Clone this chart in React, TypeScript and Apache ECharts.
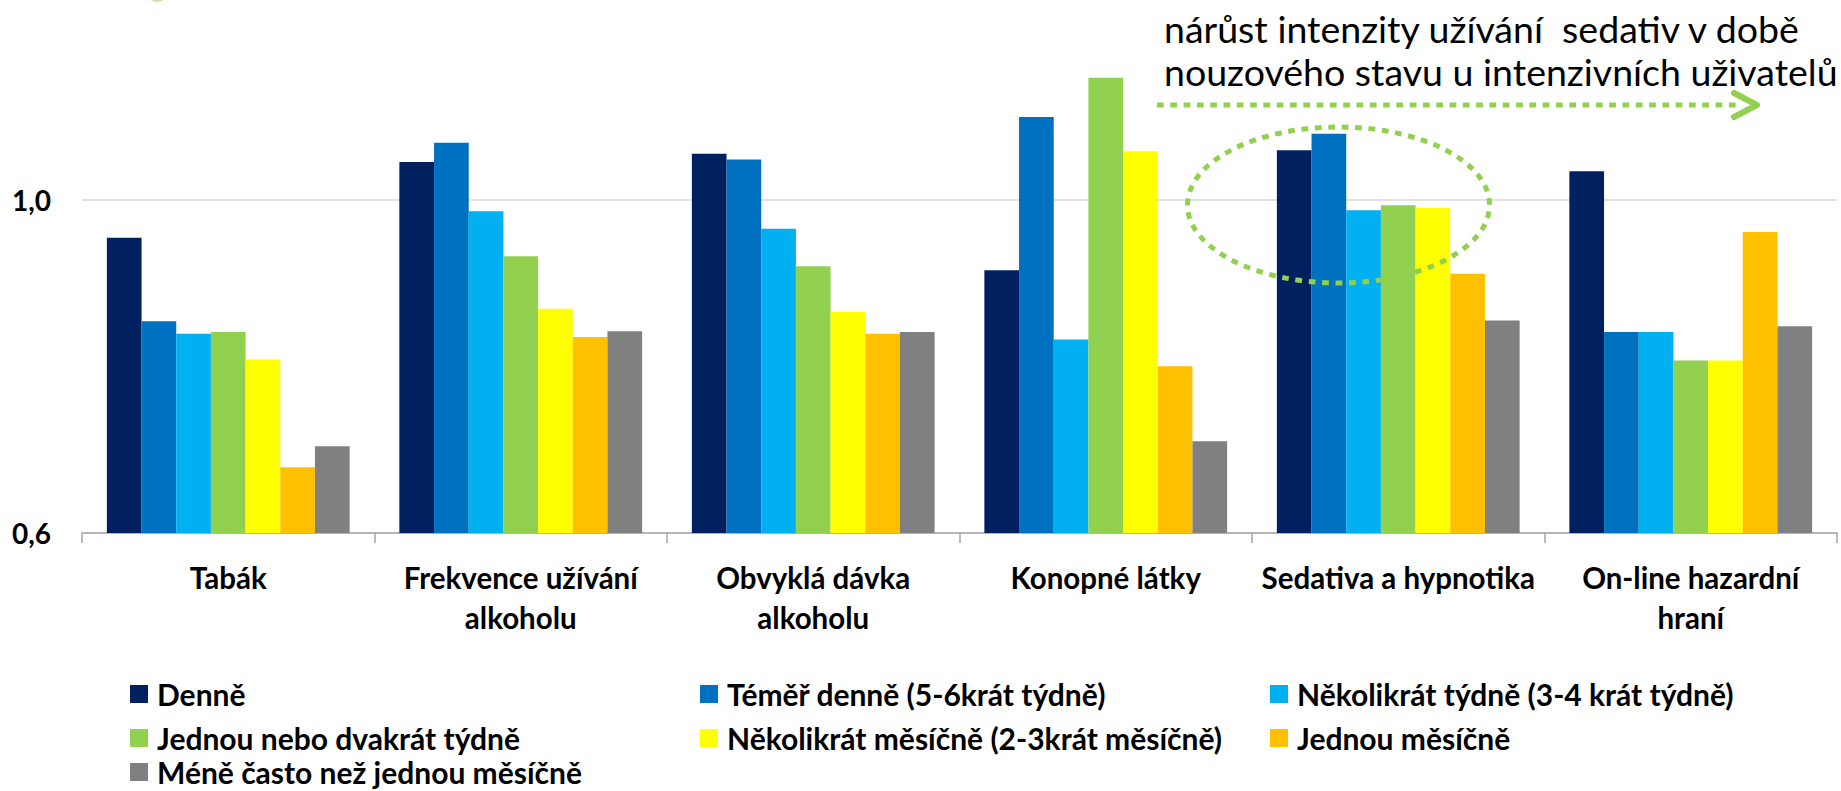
import React, { useEffect, useRef } from "react";
import * as echarts from "echarts";

const categories = [
  "Tabák",
  "Frekvence užívání\nalkoholu",
  "Obvyklá dávka\nalkoholu",
  "Konopné látky",
  "Sedativa a hypnotika",
  "On-line hazardní\nhraní",
];

const seriesNames = [
  "Denně",
  "Téměř denně (5-6krát týdně)",
  "Několikrát týdně (3-4 krát týdně)",
  "Jednou nebo dvakrát týdně",
  "Několikrát měsíčně (2-3krát měsíčně)",
  "Jednou měsíčně",
  "Méně často než jednou měsíčně",
];

const seriesColors = ["#002060", "#0070C0", "#00B0F0", "#92D050", "#FFFF00", "#FFC000", "#808080"];

const daily = [0.954, 1.045, 1.055, 0.915, 1.059, 1.034];
const almostDaily = [0.854, 1.068, 1.048, 1.099, 1.079, 0.841];
const severalWeekly = [0.839, 0.986, 0.965, 0.832, 0.987, 0.841];
const onceTwiceWeekly = [0.841, 0.932, 0.92, 1.146, 0.993, 0.807];
const severalMonthly = [0.808, 0.869, 0.865, 1.058, 0.99, 0.807];
const onceMonthly = [0.679, 0.835, 0.839, 0.8, 0.911, 0.961];
const lessOften = [0.704, 0.842, 0.841, 0.71, 0.855, 0.848];

const seriesValues = [daily, almostDaily, severalWeekly, onceTwiceWeekly, severalMonthly, onceMonthly, lessOften];

const annotationLines = [
  "nárůst intenzity užívání  sedativ v době",
  "nouzového stavu u intenzivních uživatelů",
];

const FONT = 'Lato, "Open Sans", sans-serif';
const GREEN = "#92D050";

export default function App() {
  const ref = useRef<HTMLDivElement>(null);

  useEffect(() => {
    if (!ref.current) return;
    const chart = echarts.init(ref.current, null, { renderer: "svg" });

    const legendBase = {
      orient: "vertical",
      padding: 0,
      itemWidth: 18,
      itemHeight: 18,
      itemGap: 14,
      icon: "rect",
      selectedMode: false,
      textStyle: {
        fontFamily: FONT,
        fontSize: 30,
        fontWeight: "bold",
        color: "#000",
        lineHeight: 28,
        padding: [0, 0, 0, 4],
      },
    };

    chart.setOption({
      animation: false,
      backgroundColor: "#fff",
      textStyle: { fontFamily: FONT },
      grid: { left: 82, right: 4, top: -134, bottom: 258, outerBoundsMode: "none", containLabel: false },
      xAxis: {
        type: "category",
        data: categories,
        axisLine: { lineStyle: { color: "#A6A6A6", width: 1.5 } },
        axisTick: { show: true, length: 10, lineStyle: { color: "#A6A6A6", width: 1.5 } },
        axisLabel: {
          interval: 0,
          margin: 24,
          fontSize: 29.5,
          fontWeight: "bold",
          lineHeight: 40,
          color: "#000",
          fontFamily: FONT,
        },
      },
      yAxis: {
        type: "value",
        min: 0.6,
        max: 1.4,
        interval: 0.4,
        axisLine: { show: false },
        axisTick: { show: false },
        splitLine: { lineStyle: { color: "#D9D9D9", width: 1.5 } },
        axisLabel: {
          margin: 31,
          fontSize: 28,
          fontWeight: "bold",
          color: "#000",
          fontFamily: FONT,
          showMaxLabel: false,
          formatter: (v: number) => v.toFixed(1).replace(".", ","),
        },
      },
      legend: [
        { ...legendBase, left: 130, top: 679, data: [seriesNames[0], seriesNames[3]] },
        { ...legendBase, left: 130, top: 757, data: [seriesNames[6]] },
        { ...legendBase, left: 700, top: 679, data: [seriesNames[1], seriesNames[4]] },
        { ...legendBase, left: 1270, top: 679, data: [seriesNames[2], seriesNames[5]] },
      ],
      series: seriesNames.map((name, i) => ({
        name,
        type: "bar",
        data: seriesValues[i],
        barGap: "0%",
        barCategoryGap: "17%",
        itemStyle: { color: seriesColors[i] },
      })),
      graphic: [
        {
          type: "circle",
          z: 100,
          shape: { cx: 157, cy: -9, r: 11 },
          style: { fill: "#C9E5A6" },
        },
        ...annotationLines.map((t, i) => ({
          type: "text",
          z: 100,
          x: 1164,
          y: 28 + i * 43,
          style: {
            text: t,
            fontSize: 37.5,
            fontFamily: FONT,
            fill: "#000",
            textAlign: "left",
            textVerticalAlign: "middle",
            align: "left",
            verticalAlign: "middle",
          },
        })),
        {
          type: "polyline",
          z: 100,
          shape: { points: [[1157, 105], [1740, 105]] },
          style: { stroke: GREEN, lineWidth: 5, lineDash: [6.7, 6.6], fill: "none" },
        },
        {
          type: "polyline",
          z: 100,
          shape: { points: [[1734, 93], [1757, 105], [1734, 117]] },
          style: { stroke: GREEN, lineWidth: 6, lineCap: "round", lineJoin: "round", fill: "none" },
        },
        {
          type: "ellipse",
          z: 100,
          shape: { cx: 1338.5, cy: 205, rx: 151, ry: 78 },
          style: { stroke: GREEN, lineWidth: 5, lineDash: [6.7, 6.7], fill: "none" },
        },
      ],
    });

    return () => chart.dispose();
  }, []);

  return (
    <div
      ref={ref}
      style={{ position: "absolute", left: 0, top: 0, width: 1841, height: 791 }}
    />
  );
}
